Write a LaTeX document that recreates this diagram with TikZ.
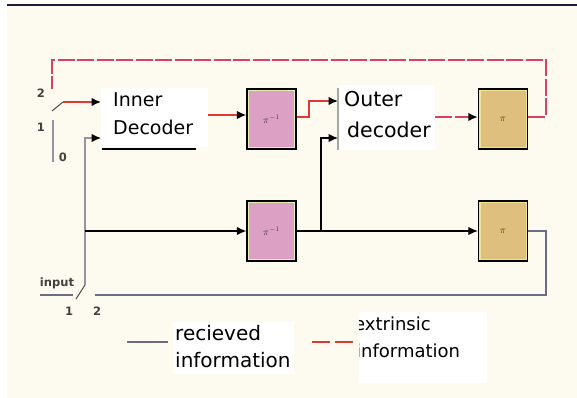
\documentclass[tikz,border=0pt]{standalone}
\usepackage{fontspec}
\setmainfont{DejaVu Sans}
\usetikzlibrary{arrows.meta}
\definecolor{cream}{HTML}{FDFBEF}
\definecolor{topline}{HTML}{1C1C38}
\definecolor{extred}{HTML}{DE3A32}
\definecolor{fbred}{HTML}{D8406C}
\definecolor{ingray}{HTML}{9494A4}
\definecolor{retgray}{HTML}{6C6C84}
\definecolor{permpink}{HTML}{DCA0C4}
\definecolor{permtan}{HTML}{DFBF7E}
\definecolor{permedge}{HTML}{E4F0B4}
\definecolor{tanedge}{HTML}{F0E496}

\begin{document}
\begin{tikzpicture}[x=1pt,y=-1pt,
                    >={Latex[length=9.5pt,width=8.5pt,color=black]},
                    wire/.style={line width=1.3pt,black},
                    red wire/.style={line width=1.5pt,extred},
                    fb wire/.style={line width=1.8pt,fbred,dash pattern=on 17pt off 2.5pt},
                    in wire/.style={line width=2.5pt,ingray},
                    ret wire/.style={line width=2pt,retgray},
                    dec node/.style={fill=white,inner sep=0pt,anchor=north west},
                    txt node/.style={inner sep=0pt,anchor=base west},
                    pin node/.style={inner sep=0pt,font=\bfseries\fontsize{11.5}{11.5}\selectfont,text=black!75},
                    perm node/.style args={#1/#2}{draw=black,line width=1.4pt,fill=#1,inner sep=0pt,
                      minimum width=49pt,minimum height=60pt,text=black!75,font=\fontsize{10}{10}\selectfont,
                      path picture={\draw[#2,line width=4pt] (path picture bounding box.south west)
                        rectangle (path picture bounding box.north east);}}]
  \useasboundingbox (0,0) rectangle (577,398);
  \fill[white] (0,0) rectangle (577,398);
  \fill[cream] (7,6) rectangle (577,398);
  \draw[topline,line width=2.5pt] (7,5) -- (577,5);

  %decoders%
  \node[dec node,minimum width=107pt,minimum height=59pt] (inner) at (101,88) {};
  \node[txt node,font=\fontsize{19}{19}\selectfont] (innerA) at (113,107) {Inner};
  \node[txt node,font=\fontsize{19}{19}\selectfont] (innerB) at (113,135) {Decoder};
  \draw[wire] (102,149) -- (196,149);

  \node[dec node,minimum width=97pt,minimum height=65pt] (outer) at (338,85) {};
  \node[txt node,font=\fontsize{20.5}{20.5}\selectfont] (outerA) at (344,107) {Outer};
  \node[txt node,font=\fontsize{20.5}{20.5}\selectfont] (outerB) at (347,138) {decoder};
  \draw[black!35,line width=2pt] ([yshift=-3pt]outer.north west) -- (outer.south west);

  %interleavers%
  \node[perm node=permpink/permedge] (pinv1) at (271.5,119) {$\pi^{-1}$};
  \node[perm node=permpink/permedge] (pinv2) at (271.5,231) {$\pi^{-1}$};
  \node[perm node=permtan/tanedge] (pi1) at (503,119) {$\pi$};
  \node[perm node=permtan/tanedge] (pi2) at (503,231) {$\pi$};

  %rows and bends%
  \coordinate (ra) at (0,115);
  \coordinate (rb) at (0,117);
  \coordinate (rc) at (0,101);
  \coordinate (rd) at (0,138);
  \coordinate (bend1) at (309,101);
  \coordinate (fbr) at (546,60);
  \coordinate (retr) at (546,295);
  \coordinate (jn1) at (85,231);
  \coordinate (jn2) at (321,231);

  %switches%
  \coordinate (sw2) at (52,89);
  \coordinate (swp) at (52,111);
  \coordinate (swt) at (63,102);
  \coordinate (sw1a) at (53,120);
  \coordinate (sw1b) at (53,162);
  \coordinate (inA) at (40,295);
  \coordinate (inB) at (73,295);
  \coordinate (bsp) at (76,299);
  \coordinate (bst) at (85,285);
  \coordinate (bs2) at (95,295);

  \draw[black!70,line width=1pt] (swp) -- (swt);
  \draw[in wire] (sw1a) -- (sw1b);
  \node[pin node] (lab2) at (41,93) {2};
  \node[pin node] (lab1) at (41,127) {1};
  \node[pin node] (lab0) at (63,157) {0};

  \draw[ret wire] (inA) -- (inB);
  \draw[black!70,line width=1pt] (bsp) -- (bst);
  \node[pin node] (labin) at (57,283) {input};
  \node[pin node] (labb1) at (69,311) {1};
  \node[pin node] (labb2) at (97,311) {2};

  %connectors%
  \draw[red wire,->] (swt) -- (inner.west |- swt);
  \draw[red wire,->] (inner.east |- ra) -- (pinv1.west |- ra);
  \draw[red wire,->] (pinv1.east |- rb) -| (bend1) -- (outer.west |- bend1);
  \draw[fb wire,->] (outer.east |- rb) -- (pi1.west |- rb);
  \draw[fb wire] (pi1.east |- rb) -| (fbr) -| (sw2);

  \draw[in wire] (bst) -- (bst |- rd) -- ([xshift=-8pt]inner.west |- rd);
  \draw[wire,->] ([xshift=-9pt]inner.west |- rd) -- (inner.west |- rd);
  \draw[wire,->] (jn1) -- (pinv2.west);
  \draw[wire,->] (pinv2.east) -- (pi2.west);
  \draw[wire,->] (jn2) |- (outer.west |- rd);
  \draw[ret wire] (pi2.east) -| (retr) -- (bs2);

  %legend%
  \draw[ret wire] (127,342) coordinate (lgA) -- (168,342) coordinate (lgB);
  \node[dec node,minimum width=121pt,minimum height=52pt] (recbox) at (173,322) {};
  \node[txt node,font=\fontsize{20}{20}\selectfont] (recA) at (175,340) {recieved};
  \node[txt node,font=\fontsize{20}{20}\selectfont] (recB) at (175,367) {information};

  \draw[red wire,dash pattern=on 18pt off 5pt] (312,342) coordinate (lgC) -- (353,342) coordinate (lgD);
  \node[dec node,minimum width=128pt,minimum height=71pt] (extbox) at (359,312) {};
  \begin{scope}
    \clip (extbox.north west) rectangle (extbox.south east);
    \node[txt node,font=\fontsize{18}{18}\selectfont] (extA) at (354,330) {extrinsic};
    \node[txt node,font=\fontsize{18}{18}\selectfont] (extB) at (356,357) {information};
  \end{scope}
\end{tikzpicture}
\end{document}
